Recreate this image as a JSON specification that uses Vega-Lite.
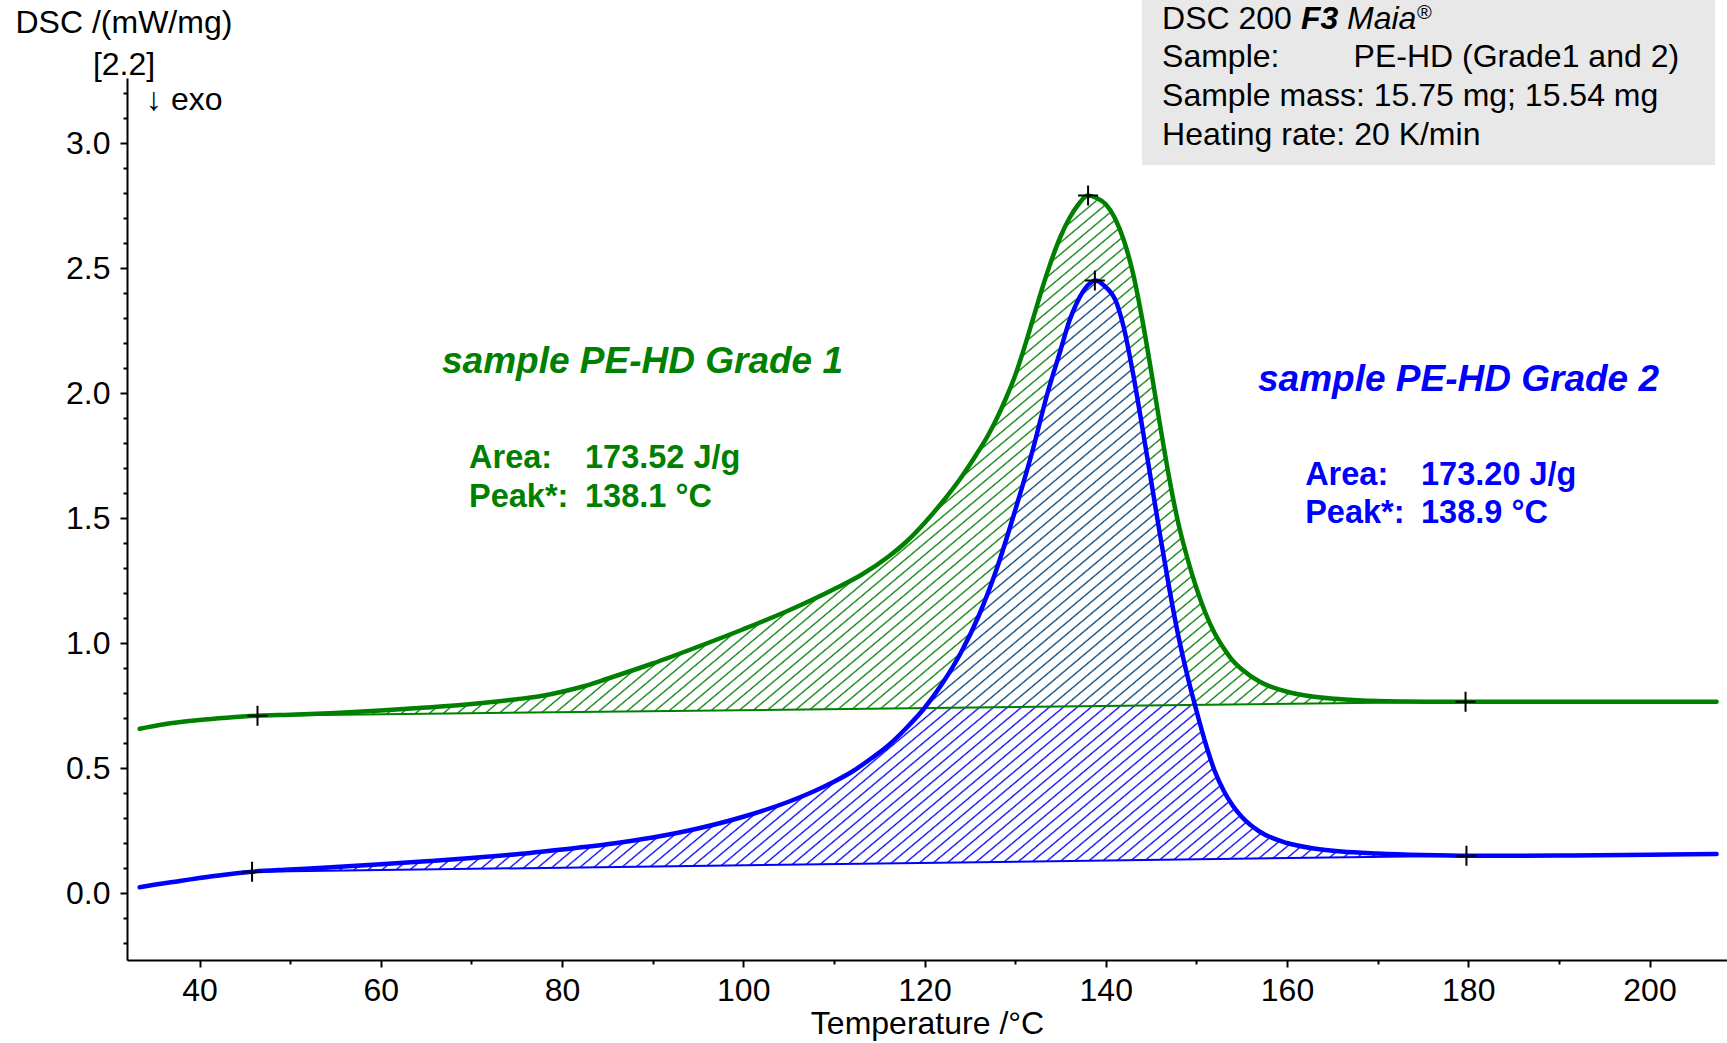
{
  "$schema": "https://vega.github.io/schema/vega-lite/v6.json",
  "width": 1600,
  "height": 882,
  "autosize": "none",
  "padding": {"left": 127, "top": 78, "right": 0, "bottom": 83},
  "background": "white",
  "config": {"view": {"stroke": null}, "font": "Liberation Sans"},
  "datasets": {
    "curves": [
      {"series":"Grade 1","T":33.4,"dsc":0.657},{"series":"Grade 1","T":35,"dsc":0.668},{"series":"Grade 1","T":37,"dsc":0.68},{"series":"Grade 1","T":40,"dsc":0.692},{"series":"Grade 1","T":43,"dsc":0.701},
      {"series":"Grade 1","T":46.4,"dsc":0.709,"base":0.709},{"series":"Grade 1","T":50,"dsc":0.713,"base":0.7105},{"series":"Grade 1","T":55,"dsc":0.72,"base":0.7126},{"series":"Grade 1","T":60,"dsc":0.73,"base":0.7147},{"series":"Grade 1","T":65,"dsc":0.742,"base":0.7168},{"series":"Grade 1","T":70,"dsc":0.756,"base":0.7189},{"series":"Grade 1","T":75,"dsc":0.775,"base":0.721},{"series":"Grade 1","T":78,"dsc":0.79,"base":0.7223},{"series":"Grade 1","T":80,"dsc":0.805,"base":0.7231},{"series":"Grade 1","T":82,"dsc":0.823,"base":0.724},{"series":"Grade 1","T":85,"dsc":0.857,"base":0.7252},{"series":"Grade 1","T":88,"dsc":0.893,"base":0.7265},{"series":"Grade 1","T":90,"dsc":0.918,"base":0.7273},{"series":"Grade 1","T":95,"dsc":0.985,"base":0.7294},{"series":"Grade 1","T":100,"dsc":1.055,"base":0.7315},{"series":"Grade 1","T":105,"dsc":1.13,"base":0.7336},{"series":"Grade 1","T":110,"dsc":1.215,"base":0.7357},{"series":"Grade 1","T":113,"dsc":1.272,"base":0.737},{"series":"Grade 1","T":116,"dsc":1.345,"base":0.7382},{"series":"Grade 1","T":118,"dsc":1.405,"base":0.7391},{"series":"Grade 1","T":120,"dsc":1.48,"base":0.7399},{"series":"Grade 1","T":122,"dsc":1.565,"base":0.7408},{"series":"Grade 1","T":124,"dsc":1.66,"base":0.7416},{"series":"Grade 1","T":126,"dsc":1.77,"base":0.7424},{"series":"Grade 1","T":127,"dsc":1.83,"base":0.7428},{"series":"Grade 1","T":128,"dsc":1.9,"base":0.7433},{"series":"Grade 1","T":129,"dsc":1.98,"base":0.7437},{"series":"Grade 1","T":130,"dsc":2.07,"base":0.7441},{"series":"Grade 1","T":131,"dsc":2.18,"base":0.7445},{"series":"Grade 1","T":132,"dsc":2.3,"base":0.745},{"series":"Grade 1","T":133,"dsc":2.42,"base":0.7454},{"series":"Grade 1","T":134,"dsc":2.53,"base":0.7458},{"series":"Grade 1","T":135,"dsc":2.625,"base":0.7462},{"series":"Grade 1","T":136,"dsc":2.7,"base":0.7466},{"series":"Grade 1","T":137,"dsc":2.755,"base":0.7471},{"series":"Grade 1","T":138,"dsc":2.79,"base":0.7475},{"series":"Grade 1","T":139,"dsc":2.78,"base":0.7479},{"series":"Grade 1","T":140,"dsc":2.755,"base":0.7483},{"series":"Grade 1","T":141,"dsc":2.7,"base":0.7487},{"series":"Grade 1","T":142,"dsc":2.61,"base":0.7492},{"series":"Grade 1","T":143,"dsc":2.48,"base":0.7496},{"series":"Grade 1","T":144,"dsc":2.3,"base":0.75},{"series":"Grade 1","T":145,"dsc":2.09,"base":0.7504},{"series":"Grade 1","T":146,"dsc":1.87,"base":0.7509},{"series":"Grade 1","T":147,"dsc":1.66,"base":0.7513},{"series":"Grade 1","T":148,"dsc":1.48,"base":0.7517},{"series":"Grade 1","T":149,"dsc":1.34,"base":0.7521},{"series":"Grade 1","T":150,"dsc":1.22,"base":0.7525},{"series":"Grade 1","T":151,"dsc":1.12,"base":0.7529},{"series":"Grade 1","T":152,"dsc":1.04,"base":0.7534},{"series":"Grade 1","T":153,"dsc":0.98,"base":0.7538},{"series":"Grade 1","T":154,"dsc":0.93,"base":0.7542},{"series":"Grade 1","T":155,"dsc":0.895,"base":0.7546},{"series":"Grade 1","T":157,"dsc":0.845,"base":0.7554},{"series":"Grade 1","T":160,"dsc":0.805,"base":0.7567},{"series":"Grade 1","T":163,"dsc":0.785,"base":0.758},{"series":"Grade 1","T":166,"dsc":0.775,"base":0.7592},{"series":"Grade 1","T":170,"dsc":0.768,"base":0.7609},{"series":"Grade 1","T":173,"dsc":0.766,"base":0.7622},
      {"series":"Grade 1","T":176,"dsc":0.765},{"series":"Grade 1","T":180,"dsc":0.765},{"series":"Grade 1","T":190,"dsc":0.765},{"series":"Grade 1","T":200,"dsc":0.765},{"series":"Grade 1","T":207.4,"dsc":0.765},
      {"series":"Grade 2","T":33.4,"dsc":0.023},{"series":"Grade 2","T":35,"dsc":0.033},{"series":"Grade 2","T":38,"dsc":0.049},{"series":"Grade 2","T":40,"dsc":0.06},{"series":"Grade 2","T":43,"dsc":0.074},
      {"series":"Grade 2","T":45.8,"dsc":0.085,"base":0.085},{"series":"Grade 2","T":50,"dsc":0.094,"base":0.087},{"series":"Grade 2","T":55,"dsc":0.104,"base":0.0894},{"series":"Grade 2","T":60,"dsc":0.115,"base":0.0918},{"series":"Grade 2","T":65,"dsc":0.127,"base":0.0942},{"series":"Grade 2","T":70,"dsc":0.14,"base":0.0966},{"series":"Grade 2","T":75,"dsc":0.155,"base":0.099},{"series":"Grade 2","T":80,"dsc":0.174,"base":0.1013},{"series":"Grade 2","T":85,"dsc":0.195,"base":0.1037},{"series":"Grade 2","T":90,"dsc":0.222,"base":0.1061},{"series":"Grade 2","T":95,"dsc":0.258,"base":0.1085},{"series":"Grade 2","T":100,"dsc":0.305,"base":0.1109},{"series":"Grade 2","T":105,"dsc":0.365,"base":0.1133},{"series":"Grade 2","T":108,"dsc":0.41,"base":0.1147},{"series":"Grade 2","T":110,"dsc":0.445,"base":0.1157},{"series":"Grade 2","T":112,"dsc":0.485,"base":0.1166},{"series":"Grade 2","T":114,"dsc":0.535,"base":0.1176},{"series":"Grade 2","T":116,"dsc":0.59,"base":0.1186},{"series":"Grade 2","T":118,"dsc":0.66,"base":0.1195},{"series":"Grade 2","T":120,"dsc":0.74,"base":0.1205},{"series":"Grade 2","T":122,"dsc":0.84,"base":0.1214},{"series":"Grade 2","T":124,"dsc":0.96,"base":0.1224},{"series":"Grade 2","T":126,"dsc":1.11,"base":0.1233},{"series":"Grade 2","T":128,"dsc":1.3,"base":0.1243},{"series":"Grade 2","T":130,"dsc":1.53,"base":0.1252},{"series":"Grade 2","T":132,"dsc":1.78,"base":0.1262},{"series":"Grade 2","T":133.5,"dsc":1.99,"base":0.1269},{"series":"Grade 2","T":135,"dsc":2.17,"base":0.1276},{"series":"Grade 2","T":136,"dsc":2.29,"base":0.1281},{"series":"Grade 2","T":136.8,"dsc":2.36,"base":0.1285},{"series":"Grade 2","T":138,"dsc":2.43,"base":0.1291},{"series":"Grade 2","T":138.9,"dsc":2.45,"base":0.1295},{"series":"Grade 2","T":139.8,"dsc":2.43,"base":0.1299},{"series":"Grade 2","T":141.2,"dsc":2.36,"base":0.1306},{"series":"Grade 2","T":142,"dsc":2.26,"base":0.131},{"series":"Grade 2","T":143,"dsc":2.08,"base":0.1315},{"series":"Grade 2","T":144,"dsc":1.87,"base":0.1319},{"series":"Grade 2","T":145,"dsc":1.65,"base":0.1324},{"series":"Grade 2","T":146,"dsc":1.43,"base":0.1329},{"series":"Grade 2","T":147,"dsc":1.22,"base":0.1334},{"series":"Grade 2","T":148,"dsc":1.03,"base":0.1339},{"series":"Grade 2","T":149,"dsc":0.87,"base":0.1343},{"series":"Grade 2","T":150,"dsc":0.73,"base":0.1348},{"series":"Grade 2","T":151,"dsc":0.6,"base":0.1353},{"series":"Grade 2","T":152,"dsc":0.49,"base":0.1358},{"series":"Grade 2","T":153,"dsc":0.41,"base":0.1362},{"series":"Grade 2","T":154,"dsc":0.35,"base":0.1367},{"series":"Grade 2","T":155,"dsc":0.305,"base":0.1372},{"series":"Grade 2","T":157,"dsc":0.245,"base":0.1382},{"series":"Grade 2","T":160,"dsc":0.2,"base":0.1396},{"series":"Grade 2","T":163,"dsc":0.178,"base":0.141},{"series":"Grade 2","T":166,"dsc":0.166,"base":0.1425},{"series":"Grade 2","T":170,"dsc":0.158,"base":0.1444},{"series":"Grade 2","T":175,"dsc":0.152,"base":0.1468},
      {"series":"Grade 2","T":180,"dsc":0.149},{"series":"Grade 2","T":190,"dsc":0.15},{"series":"Grade 2","T":200,"dsc":0.153},{"series":"Grade 2","T":207.4,"dsc":0.156}
    ],
    "baselines": [
      {"series":"Grade 1","T":46.4,"dsc":0.709},{"series":"Grade 1","T":179.7,"dsc":0.765},
      {"series":"Grade 2","T":45.8,"dsc":0.085},{"series":"Grade 2","T":179.8,"dsc":0.149}
    ],
    "marks": [
      {"series":"Grade 1","T":46.4,"dsc":0.709},{"series":"Grade 1","T":138.05,"dsc":2.79},{"series":"Grade 1","T":179.7,"dsc":0.765},
      {"series":"Grade 2","T":45.8,"dsc":0.085},{"series":"Grade 2","T":138.8,"dsc":2.45},{"series":"Grade 2","T":179.8,"dsc":0.149}
    ]
  },
  "encoding": {
    "x": {
      "field": "T", "type": "quantitative",
      "scale": {"domain": [32, 208.55], "nice": false, "zero": false},
      "axis": {
        "title": "Temperature /°C",
        "values": [40,50,60,70,80,90,100,110,120,130,140,150,160,170,180,190,200],
        "format": "d",
        "labelExpr": "datum.value % 20 == 0 ? datum.label : ''",
        "tickSize": {"condition": {"test": "datum.value % 20 == 0", "value": 7}, "value": 4},
        "grid": false, "labelOverlap": false, "labelFlush": false,
        "domainColor": "black", "domainWidth": 2, "tickColor": "black", "tickWidth": 2,
        "labelFont": "Liberation Sans", "labelFontSize": 32, "labelColor": "black", "labelPadding": 8,
        "titleFont": "Liberation Sans", "titleFontSize": 32, "titleFontWeight": "normal", "titleColor": "black",
        "titleY": 63, "titleBaseline": "middle"
      }
    },
    "y": {
      "field": "dsc", "type": "quantitative",
      "scale": {"domain": [-0.268, 3.26], "nice": false, "zero": false},
      "axis": {
        "title": "DSC /(mW/mg)",
        "values": [-0.2,-0.1,0,0.1,0.2,0.3,0.4,0.5,0.6,0.7,0.8,0.9,1,1.1,1.2,1.3,1.4,1.5,1.6,1.7,1.8,1.9,2,2.1,2.2,2.3,2.4,2.5,2.6,2.7,2.8,2.9,3,3.1,3.2],
        "format": ".1f",
        "labelExpr": "abs(datum.value*2 - round(datum.value*2)) < 0.001 ? datum.label : ''",
        "tickSize": {"condition": {"test": "abs(datum.value*2 - round(datum.value*2)) < 0.001", "value": 7}, "value": 4},
        "grid": false, "labelOverlap": false, "labelFlush": false,
        "domainColor": "black", "domainWidth": 2, "tickColor": "black", "tickWidth": 2,
        "labelFont": "Liberation Sans", "labelFontSize": 32, "labelColor": "black", "labelPadding": 10,
        "titleFont": "Liberation Sans", "titleFontSize": 32, "titleFontWeight": "normal", "titleColor": "black",
        "titleAngle": 0, "titleAlign": "left", "titleBaseline": "middle", "titleX": -112, "titleY": -56
      }
    }
  },
  "layer": [
    {
      "data": {"values": [{"T": 144.0, "T2": 207.23, "dsc": 2.912, "dsc2": 3.572}]},
      "mark": {"type": "rect", "color": "#e8e8e8"},
      "encoding": {"x2": {"field": "T2"}, "y2": {"field": "dsc2"}}
    },
    {
      "data": {"name": "curves"},
      "transform": [{"filter": "datum.series == 'Grade 1' && isValid(datum.base)"}],
      "mark": {"type": "area", "color": "#008000", "opacity": 1, "interpolate": "monotone"},
      "encoding": {"y2": {"field": "base"}}
    },
    {
      "data": {"name": "curves"},
      "transform": [{"filter": "datum.series == 'Grade 2' && isValid(datum.base)"}],
      "mark": {"type": "area", "color": "#0000ff", "opacity": 1, "interpolate": "monotone"},
      "encoding": {"y2": {"field": "base"}}
    },
    {
      "data": {"name": "curves"},
      "transform": [{"filter": "datum.series == 'Grade 1' && isValid(datum.base)"}],
      "mark": {"type": "area", "color": "#008000", "opacity": 0.5, "interpolate": "monotone"},
      "encoding": {"y2": {"field": "base"}}
    },
    {
      "data": {"values": [{"T": 45.5, "T2": 175.5, "dsc": 0.08, "dsc2": 2.8}]},
      "mark": {"type": "rect", "fill": {"gradient": "linear", "x1": 0, "y1": 0, "x2": 1.1456, "y2": 0.7884, "stops": [
        {"offset":0.0025,"color":"#fff"},{"offset":0.0035,"color":"#fff0"},{"offset":0.0045,"color":"#fff"},
        {"offset":0.0095,"color":"#fff"},{"offset":0.0105,"color":"#fff0"},{"offset":0.0115,"color":"#fff"},
        {"offset":0.0165,"color":"#fff"},{"offset":0.0175,"color":"#fff0"},{"offset":0.0185,"color":"#fff"},
        {"offset":0.0235,"color":"#fff"},{"offset":0.0245,"color":"#fff0"},{"offset":0.0255,"color":"#fff"},
        {"offset":0.0305,"color":"#fff"},{"offset":0.0315,"color":"#fff0"},{"offset":0.0325,"color":"#fff"},
        {"offset":0.0375,"color":"#fff"},{"offset":0.0385,"color":"#fff0"},{"offset":0.0395,"color":"#fff"},
        {"offset":0.0445,"color":"#fff"},{"offset":0.0455,"color":"#fff0"},{"offset":0.0465,"color":"#fff"},
        {"offset":0.0515,"color":"#fff"},{"offset":0.0525,"color":"#fff0"},{"offset":0.0535,"color":"#fff"},
        {"offset":0.0585,"color":"#fff"},{"offset":0.0595,"color":"#fff0"},{"offset":0.0605,"color":"#fff"},
        {"offset":0.0655,"color":"#fff"},{"offset":0.0665,"color":"#fff0"},{"offset":0.0675,"color":"#fff"},
        {"offset":0.0725,"color":"#fff"},{"offset":0.0735,"color":"#fff0"},{"offset":0.0745,"color":"#fff"},
        {"offset":0.0795,"color":"#fff"},{"offset":0.0805,"color":"#fff0"},{"offset":0.0815,"color":"#fff"},
        {"offset":0.0865,"color":"#fff"},{"offset":0.0875,"color":"#fff0"},{"offset":0.0885,"color":"#fff"},
        {"offset":0.0935,"color":"#fff"},{"offset":0.0945,"color":"#fff0"},{"offset":0.0955,"color":"#fff"},
        {"offset":0.1005,"color":"#fff"},{"offset":0.1015,"color":"#fff0"},{"offset":0.1025,"color":"#fff"},
        {"offset":0.1075,"color":"#fff"},{"offset":0.1085,"color":"#fff0"},{"offset":0.1095,"color":"#fff"},
        {"offset":0.1145,"color":"#fff"},{"offset":0.1155,"color":"#fff0"},{"offset":0.1165,"color":"#fff"},
        {"offset":0.1215,"color":"#fff"},{"offset":0.1225,"color":"#fff0"},{"offset":0.1235,"color":"#fff"},
        {"offset":0.1285,"color":"#fff"},{"offset":0.1295,"color":"#fff0"},{"offset":0.1305,"color":"#fff"},
        {"offset":0.1355,"color":"#fff"},{"offset":0.1365,"color":"#fff0"},{"offset":0.1375,"color":"#fff"},
        {"offset":0.1425,"color":"#fff"},{"offset":0.1435,"color":"#fff0"},{"offset":0.1445,"color":"#fff"},
        {"offset":0.1495,"color":"#fff"},{"offset":0.1505,"color":"#fff0"},{"offset":0.1515,"color":"#fff"},
        {"offset":0.1565,"color":"#fff"},{"offset":0.1575,"color":"#fff0"},{"offset":0.1585,"color":"#fff"},
        {"offset":0.1635,"color":"#fff"},{"offset":0.1645,"color":"#fff0"},{"offset":0.1655,"color":"#fff"},
        {"offset":0.1705,"color":"#fff"},{"offset":0.1715,"color":"#fff0"},{"offset":0.1725,"color":"#fff"},
        {"offset":0.1775,"color":"#fff"},{"offset":0.1785,"color":"#fff0"},{"offset":0.1795,"color":"#fff"},
        {"offset":0.1845,"color":"#fff"},{"offset":0.1855,"color":"#fff0"},{"offset":0.1865,"color":"#fff"},
        {"offset":0.1915,"color":"#fff"},{"offset":0.1925,"color":"#fff0"},{"offset":0.1935,"color":"#fff"},
        {"offset":0.1985,"color":"#fff"},{"offset":0.1995,"color":"#fff0"},{"offset":0.2005,"color":"#fff"},
        {"offset":0.2055,"color":"#fff"},{"offset":0.2065,"color":"#fff0"},{"offset":0.2075,"color":"#fff"},
        {"offset":0.2125,"color":"#fff"},{"offset":0.2135,"color":"#fff0"},{"offset":0.2145,"color":"#fff"},
        {"offset":0.2195,"color":"#fff"},{"offset":0.2205,"color":"#fff0"},{"offset":0.2215,"color":"#fff"},
        {"offset":0.2265,"color":"#fff"},{"offset":0.2275,"color":"#fff0"},{"offset":0.2285,"color":"#fff"},
        {"offset":0.2335,"color":"#fff"},{"offset":0.2345,"color":"#fff0"},{"offset":0.2355,"color":"#fff"},
        {"offset":0.2405,"color":"#fff"},{"offset":0.2415,"color":"#fff0"},{"offset":0.2425,"color":"#fff"},
        {"offset":0.2475,"color":"#fff"},{"offset":0.2485,"color":"#fff0"},{"offset":0.2495,"color":"#fff"},
        {"offset":0.2545,"color":"#fff"},{"offset":0.2555,"color":"#fff0"},{"offset":0.2565,"color":"#fff"},
        {"offset":0.2615,"color":"#fff"},{"offset":0.2625,"color":"#fff0"},{"offset":0.2635,"color":"#fff"},
        {"offset":0.2685,"color":"#fff"},{"offset":0.2695,"color":"#fff0"},{"offset":0.2705,"color":"#fff"},
        {"offset":0.2755,"color":"#fff"},{"offset":0.2765,"color":"#fff0"},{"offset":0.2775,"color":"#fff"},
        {"offset":0.2825,"color":"#fff"},{"offset":0.2835,"color":"#fff0"},{"offset":0.2845,"color":"#fff"},
        {"offset":0.2895,"color":"#fff"},{"offset":0.2905,"color":"#fff0"},{"offset":0.2915,"color":"#fff"},
        {"offset":0.2965,"color":"#fff"},{"offset":0.2975,"color":"#fff0"},{"offset":0.2985,"color":"#fff"},
        {"offset":0.3035,"color":"#fff"},{"offset":0.3045,"color":"#fff0"},{"offset":0.3055,"color":"#fff"},
        {"offset":0.3105,"color":"#fff"},{"offset":0.3115,"color":"#fff0"},{"offset":0.3125,"color":"#fff"},
        {"offset":0.3175,"color":"#fff"},{"offset":0.3185,"color":"#fff0"},{"offset":0.3195,"color":"#fff"},
        {"offset":0.3245,"color":"#fff"},{"offset":0.3255,"color":"#fff0"},{"offset":0.3265,"color":"#fff"},
        {"offset":0.3315,"color":"#fff"},{"offset":0.3325,"color":"#fff0"},{"offset":0.3335,"color":"#fff"},
        {"offset":0.3385,"color":"#fff"},{"offset":0.3395,"color":"#fff0"},{"offset":0.3405,"color":"#fff"},
        {"offset":0.3455,"color":"#fff"},{"offset":0.3465,"color":"#fff0"},{"offset":0.3475,"color":"#fff"},
        {"offset":0.3525,"color":"#fff"},{"offset":0.3535,"color":"#fff0"},{"offset":0.3545,"color":"#fff"},
        {"offset":0.3595,"color":"#fff"},{"offset":0.3605,"color":"#fff0"},{"offset":0.3615,"color":"#fff"},
        {"offset":0.3665,"color":"#fff"},{"offset":0.3675,"color":"#fff0"},{"offset":0.3685,"color":"#fff"},
        {"offset":0.3735,"color":"#fff"},{"offset":0.3745,"color":"#fff0"},{"offset":0.3755,"color":"#fff"},
        {"offset":0.3805,"color":"#fff"},{"offset":0.3815,"color":"#fff0"},{"offset":0.3825,"color":"#fff"},
        {"offset":0.3875,"color":"#fff"},{"offset":0.3885,"color":"#fff0"},{"offset":0.3895,"color":"#fff"},
        {"offset":0.3945,"color":"#fff"},{"offset":0.3955,"color":"#fff0"},{"offset":0.3965,"color":"#fff"},
        {"offset":0.4015,"color":"#fff"},{"offset":0.4025,"color":"#fff0"},{"offset":0.4035,"color":"#fff"},
        {"offset":0.4085,"color":"#fff"},{"offset":0.4095,"color":"#fff0"},{"offset":0.4105,"color":"#fff"},
        {"offset":0.4155,"color":"#fff"},{"offset":0.4165,"color":"#fff0"},{"offset":0.4175,"color":"#fff"},
        {"offset":0.4225,"color":"#fff"},{"offset":0.4235,"color":"#fff0"},{"offset":0.4245,"color":"#fff"},
        {"offset":0.4295,"color":"#fff"},{"offset":0.4305,"color":"#fff0"},{"offset":0.4315,"color":"#fff"},
        {"offset":0.4365,"color":"#fff"},{"offset":0.4375,"color":"#fff0"},{"offset":0.4385,"color":"#fff"},
        {"offset":0.4435,"color":"#fff"},{"offset":0.4445,"color":"#fff0"},{"offset":0.4455,"color":"#fff"},
        {"offset":0.4505,"color":"#fff"},{"offset":0.4515,"color":"#fff0"},{"offset":0.4525,"color":"#fff"},
        {"offset":0.4575,"color":"#fff"},{"offset":0.4585,"color":"#fff0"},{"offset":0.4595,"color":"#fff"},
        {"offset":0.4645,"color":"#fff"},{"offset":0.4655,"color":"#fff0"},{"offset":0.4665,"color":"#fff"},
        {"offset":0.4715,"color":"#fff"},{"offset":0.4725,"color":"#fff0"},{"offset":0.4735,"color":"#fff"},
        {"offset":0.4785,"color":"#fff"},{"offset":0.4795,"color":"#fff0"},{"offset":0.4805,"color":"#fff"},
        {"offset":0.4855,"color":"#fff"},{"offset":0.4865,"color":"#fff0"},{"offset":0.4875,"color":"#fff"},
        {"offset":0.4925,"color":"#fff"},{"offset":0.4935,"color":"#fff0"},{"offset":0.4945,"color":"#fff"},
        {"offset":0.4995,"color":"#fff"},{"offset":0.5005,"color":"#fff0"},{"offset":0.5015,"color":"#fff"},
        {"offset":0.5065,"color":"#fff"},{"offset":0.5075,"color":"#fff0"},{"offset":0.5085,"color":"#fff"},
        {"offset":0.5135,"color":"#fff"},{"offset":0.5145,"color":"#fff0"},{"offset":0.5155,"color":"#fff"},
        {"offset":0.5205,"color":"#fff"},{"offset":0.5215,"color":"#fff0"},{"offset":0.5225,"color":"#fff"},
        {"offset":0.5275,"color":"#fff"},{"offset":0.5285,"color":"#fff0"},{"offset":0.5295,"color":"#fff"},
        {"offset":0.5345,"color":"#fff"},{"offset":0.5355,"color":"#fff0"},{"offset":0.5365,"color":"#fff"},
        {"offset":0.5415,"color":"#fff"},{"offset":0.5425,"color":"#fff0"},{"offset":0.5435,"color":"#fff"},
        {"offset":0.5485,"color":"#fff"},{"offset":0.5495,"color":"#fff0"},{"offset":0.5505,"color":"#fff"},
        {"offset":0.5555,"color":"#fff"},{"offset":0.5565,"color":"#fff0"},{"offset":0.5575,"color":"#fff"},
        {"offset":0.5625,"color":"#fff"},{"offset":0.5635,"color":"#fff0"},{"offset":0.5645,"color":"#fff"},
        {"offset":0.5695,"color":"#fff"},{"offset":0.5705,"color":"#fff0"},{"offset":0.5715,"color":"#fff"},
        {"offset":0.5765,"color":"#fff"},{"offset":0.5775,"color":"#fff0"},{"offset":0.5785,"color":"#fff"},
        {"offset":0.5835,"color":"#fff"},{"offset":0.5845,"color":"#fff0"},{"offset":0.5855,"color":"#fff"},
        {"offset":0.5905,"color":"#fff"},{"offset":0.5915,"color":"#fff0"},{"offset":0.5925,"color":"#fff"},
        {"offset":0.5975,"color":"#fff"},{"offset":0.5985,"color":"#fff0"},{"offset":0.5995,"color":"#fff"},
        {"offset":0.6045,"color":"#fff"},{"offset":0.6055,"color":"#fff0"},{"offset":0.6065,"color":"#fff"},
        {"offset":0.6115,"color":"#fff"},{"offset":0.6125,"color":"#fff0"},{"offset":0.6135,"color":"#fff"},
        {"offset":0.6185,"color":"#fff"},{"offset":0.6195,"color":"#fff0"},{"offset":0.6205,"color":"#fff"},
        {"offset":0.6255,"color":"#fff"},{"offset":0.6265,"color":"#fff0"},{"offset":0.6275,"color":"#fff"},
        {"offset":0.6325,"color":"#fff"},{"offset":0.6335,"color":"#fff0"},{"offset":0.6345,"color":"#fff"},
        {"offset":0.6395,"color":"#fff"},{"offset":0.6405,"color":"#fff0"},{"offset":0.6415,"color":"#fff"},
        {"offset":0.6465,"color":"#fff"},{"offset":0.6475,"color":"#fff0"},{"offset":0.6485,"color":"#fff"},
        {"offset":0.6535,"color":"#fff"},{"offset":0.6545,"color":"#fff0"},{"offset":0.6555,"color":"#fff"},
        {"offset":0.6605,"color":"#fff"},{"offset":0.6615,"color":"#fff0"},{"offset":0.6625,"color":"#fff"},
        {"offset":0.6675,"color":"#fff"},{"offset":0.6685,"color":"#fff0"},{"offset":0.6695,"color":"#fff"},
        {"offset":0.6745,"color":"#fff"},{"offset":0.6755,"color":"#fff0"},{"offset":0.6765,"color":"#fff"},
        {"offset":0.6815,"color":"#fff"},{"offset":0.6825,"color":"#fff0"},{"offset":0.6835,"color":"#fff"},
        {"offset":0.6885,"color":"#fff"},{"offset":0.6895,"color":"#fff0"},{"offset":0.6905,"color":"#fff"},
        {"offset":0.6955,"color":"#fff"},{"offset":0.6965,"color":"#fff0"},{"offset":0.6975,"color":"#fff"},
        {"offset":0.7025,"color":"#fff"},{"offset":0.7035,"color":"#fff0"},{"offset":0.7045,"color":"#fff"},
        {"offset":0.7095,"color":"#fff"},{"offset":0.7105,"color":"#fff0"},{"offset":0.7115,"color":"#fff"},
        {"offset":0.7165,"color":"#fff"},{"offset":0.7175,"color":"#fff0"},{"offset":0.7185,"color":"#fff"},
        {"offset":0.7235,"color":"#fff"},{"offset":0.7245,"color":"#fff0"},{"offset":0.7255,"color":"#fff"},
        {"offset":0.7305,"color":"#fff"},{"offset":0.7315,"color":"#fff0"},{"offset":0.7325,"color":"#fff"},
        {"offset":0.7375,"color":"#fff"},{"offset":0.7385,"color":"#fff0"},{"offset":0.7395,"color":"#fff"},
        {"offset":0.7445,"color":"#fff"},{"offset":0.7455,"color":"#fff0"},{"offset":0.7465,"color":"#fff"},
        {"offset":0.7515,"color":"#fff"},{"offset":0.7525,"color":"#fff0"},{"offset":0.7535,"color":"#fff"},
        {"offset":0.7585,"color":"#fff"},{"offset":0.7595,"color":"#fff0"},{"offset":0.7605,"color":"#fff"},
        {"offset":0.7655,"color":"#fff"},{"offset":0.7665,"color":"#fff0"},{"offset":0.7675,"color":"#fff"},
        {"offset":0.7725,"color":"#fff"},{"offset":0.7735,"color":"#fff0"},{"offset":0.7745,"color":"#fff"},
        {"offset":0.7795,"color":"#fff"},{"offset":0.7805,"color":"#fff0"},{"offset":0.7815,"color":"#fff"},
        {"offset":0.7865,"color":"#fff"},{"offset":0.7875,"color":"#fff0"},{"offset":0.7885,"color":"#fff"},
        {"offset":0.7935,"color":"#fff"},{"offset":0.7945,"color":"#fff0"},{"offset":0.7955,"color":"#fff"},
        {"offset":0.8005,"color":"#fff"},{"offset":0.8015,"color":"#fff0"},{"offset":0.8025,"color":"#fff"},
        {"offset":0.8075,"color":"#fff"},{"offset":0.8085,"color":"#fff0"},{"offset":0.8095,"color":"#fff"},
        {"offset":0.8145,"color":"#fff"},{"offset":0.8155,"color":"#fff0"},{"offset":0.8165,"color":"#fff"},
        {"offset":0.8215,"color":"#fff"},{"offset":0.8225,"color":"#fff0"},{"offset":0.8235,"color":"#fff"},
        {"offset":0.8285,"color":"#fff"},{"offset":0.8295,"color":"#fff0"},{"offset":0.8305,"color":"#fff"},
        {"offset":0.8355,"color":"#fff"},{"offset":0.8365,"color":"#fff0"},{"offset":0.8375,"color":"#fff"},
        {"offset":0.8425,"color":"#fff"},{"offset":0.8435,"color":"#fff0"},{"offset":0.8445,"color":"#fff"},
        {"offset":0.8495,"color":"#fff"},{"offset":0.8505,"color":"#fff0"},{"offset":0.8515,"color":"#fff"},
        {"offset":0.8565,"color":"#fff"},{"offset":0.8575,"color":"#fff0"},{"offset":0.8585,"color":"#fff"},
        {"offset":0.8635,"color":"#fff"},{"offset":0.8645,"color":"#fff0"},{"offset":0.8655,"color":"#fff"},
        {"offset":0.8705,"color":"#fff"},{"offset":0.8715,"color":"#fff0"},{"offset":0.8725,"color":"#fff"},
        {"offset":0.8775,"color":"#fff"},{"offset":0.8785,"color":"#fff0"},{"offset":0.8795,"color":"#fff"},
        {"offset":0.8845,"color":"#fff"},{"offset":0.8855,"color":"#fff0"},{"offset":0.8865,"color":"#fff"},
        {"offset":0.8915,"color":"#fff"},{"offset":0.8925,"color":"#fff0"},{"offset":0.8935,"color":"#fff"},
        {"offset":0.8985,"color":"#fff"},{"offset":0.8995,"color":"#fff0"},{"offset":0.9005,"color":"#fff"},
        {"offset":0.9055,"color":"#fff"},{"offset":0.9065,"color":"#fff0"},{"offset":0.9075,"color":"#fff"},
        {"offset":0.9125,"color":"#fff"},{"offset":0.9135,"color":"#fff0"},{"offset":0.9145,"color":"#fff"},
        {"offset":0.9195,"color":"#fff"},{"offset":0.9205,"color":"#fff0"},{"offset":0.9215,"color":"#fff"},
        {"offset":0.9265,"color":"#fff"},{"offset":0.9275,"color":"#fff0"},{"offset":0.9285,"color":"#fff"},
        {"offset":0.9335,"color":"#fff"},{"offset":0.9345,"color":"#fff0"},{"offset":0.9355,"color":"#fff"},
        {"offset":0.9405,"color":"#fff"},{"offset":0.9415,"color":"#fff0"},{"offset":0.9425,"color":"#fff"},
        {"offset":0.9475,"color":"#fff"},{"offset":0.9485,"color":"#fff0"},{"offset":0.9495,"color":"#fff"},
        {"offset":0.9545,"color":"#fff"},{"offset":0.9555,"color":"#fff0"},{"offset":0.9565,"color":"#fff"},
        {"offset":0.9615,"color":"#fff"},{"offset":0.9625,"color":"#fff0"},{"offset":0.9635,"color":"#fff"},
        {"offset":0.9685,"color":"#fff"},{"offset":0.9695,"color":"#fff0"},{"offset":0.9705,"color":"#fff"},
        {"offset":0.9755,"color":"#fff"},{"offset":0.9765,"color":"#fff0"},{"offset":0.9775,"color":"#fff"},
        {"offset":0.9825,"color":"#fff"},{"offset":0.9835,"color":"#fff0"},{"offset":0.9845,"color":"#fff"},
        {"offset":0.9895,"color":"#fff"},{"offset":0.9905,"color":"#fff0"},{"offset":0.9915,"color":"#fff"},
        {"offset":0.9965,"color":"#fff"},{"offset":0.9975,"color":"#fff0"},{"offset":0.9985,"color":"#fff"}
      ]}},
      "encoding": {"x2": {"field": "T2"}, "y2": {"field": "dsc2"}}
    },
    {
      "data": {"name": "baselines"},
      "mark": {"type": "line", "strokeWidth": 2},
      "encoding": {"color": {"field": "series", "type": "nominal", "scale": {"domain": ["Grade 1", "Grade 2"], "range": ["#008000", "#0000ff"]}, "legend": null}}
    },
    {
      "data": {"name": "curves"},
      "mark": {"type": "line", "strokeWidth": 4.5, "strokeCap": "round", "strokeJoin": "round", "interpolate": "monotone"},
      "encoding": {"color": {"field": "series", "type": "nominal", "legend": null}}
    },
    {
      "data": {"name": "marks"},
      "mark": {"type": "point", "shape": "M-1,0H1M0,-1V1", "size": 400, "filled": false, "stroke": "black", "strokeWidth": 2, "opacity": 1},
      "encoding": {}
    },
    {
      "data": {"values": [
        {"T": 146.21, "dsc": 3.497, "txt": "DSC 200"},
        {"T": 146.21, "dsc": 3.343, "txt": "Sample:"},
        {"T": 167.35, "dsc": 3.343, "txt": "PE-HD (Grade1 and 2)"},
        {"T": 146.21, "dsc": 3.189, "txt": "Sample mass: 15.75 mg; 15.54 mg"},
        {"T": 146.21, "dsc": 3.034, "txt": "Heating rate: 20 K/min"},
        {"T": 34.1, "dsc": 3.172, "txt": "↓ exo"}
      ]},
      "mark": {"type": "text", "align": "left", "baseline": "middle", "fontSize": 32, "color": "black"},
      "encoding": {"text": {"field": "txt"}}
    },
    {
      "data": {"values": [{"T": 31.67, "dsc": 3.312, "txt": "[2.2]"}]},
      "mark": {"type": "text", "align": "center", "baseline": "middle", "fontSize": 32, "color": "black"},
      "encoding": {"text": {"field": "txt"}}
    },
    {
      "data": {"values": [{"T": 161.54, "dsc": 3.497, "txt": "F3"}]},
      "mark": {"type": "text", "align": "left", "baseline": "middle", "fontSize": 32, "fontWeight": "bold", "fontStyle": "italic", "color": "black"},
      "encoding": {"text": {"field": "txt"}}
    },
    {
      "data": {"values": [{"T": 166.62, "dsc": 3.497, "txt": "Maia"}]},
      "mark": {"type": "text", "align": "left", "baseline": "middle", "fontSize": 32, "fontStyle": "italic", "color": "black"},
      "encoding": {"text": {"field": "txt"}}
    },
    {
      "data": {"values": [{"T": 174.34, "dsc": 3.52, "txt": "®"}]},
      "mark": {"type": "text", "align": "left", "baseline": "middle", "fontSize": 20, "color": "black"},
      "encoding": {"text": {"field": "txt"}}
    },
    {
      "data": {"values": [{"T": 66.76, "dsc": 2.124, "txt": "sample PE-HD Grade 1"}]},
      "mark": {"type": "text", "align": "left", "baseline": "middle", "fontSize": 37, "fontWeight": "bold", "fontStyle": "italic", "color": "#008000"},
      "encoding": {"text": {"field": "txt"}}
    },
    {
      "data": {"values": [
        {"T": 69.74, "dsc": 1.74, "txt": "Area:"},
        {"T": 69.74, "dsc": 1.584, "txt": "Peak*:"},
        {"T": 82.54, "dsc": 1.74, "txt": "173.52 J/g"},
        {"T": 82.54, "dsc": 1.584, "txt": "138.1 °C"}
      ]},
      "mark": {"type": "text", "align": "left", "baseline": "middle", "fontSize": 32.5, "fontWeight": "bold", "color": "#008000"},
      "encoding": {"text": {"field": "txt"}}
    },
    {
      "data": {"values": [{"T": 156.8, "dsc": 2.052, "txt": "sample PE-HD Grade 2"}]},
      "mark": {"type": "text", "align": "left", "baseline": "middle", "fontSize": 37, "fontWeight": "bold", "fontStyle": "italic", "color": "#0000ff"},
      "encoding": {"text": {"field": "txt"}}
    },
    {
      "data": {"values": [
        {"T": 162.0, "dsc": 1.672, "txt": "Area:"},
        {"T": 162.0, "dsc": 1.52, "txt": "Peak*:"},
        {"T": 174.79, "dsc": 1.672, "txt": "173.20 J/g"},
        {"T": 174.79, "dsc": 1.52, "txt": "138.9 °C"}
      ]},
      "mark": {"type": "text", "align": "left", "baseline": "middle", "fontSize": 32.5, "fontWeight": "bold", "color": "#0000ff"},
      "encoding": {"text": {"field": "txt"}}
    }
  ]
}
